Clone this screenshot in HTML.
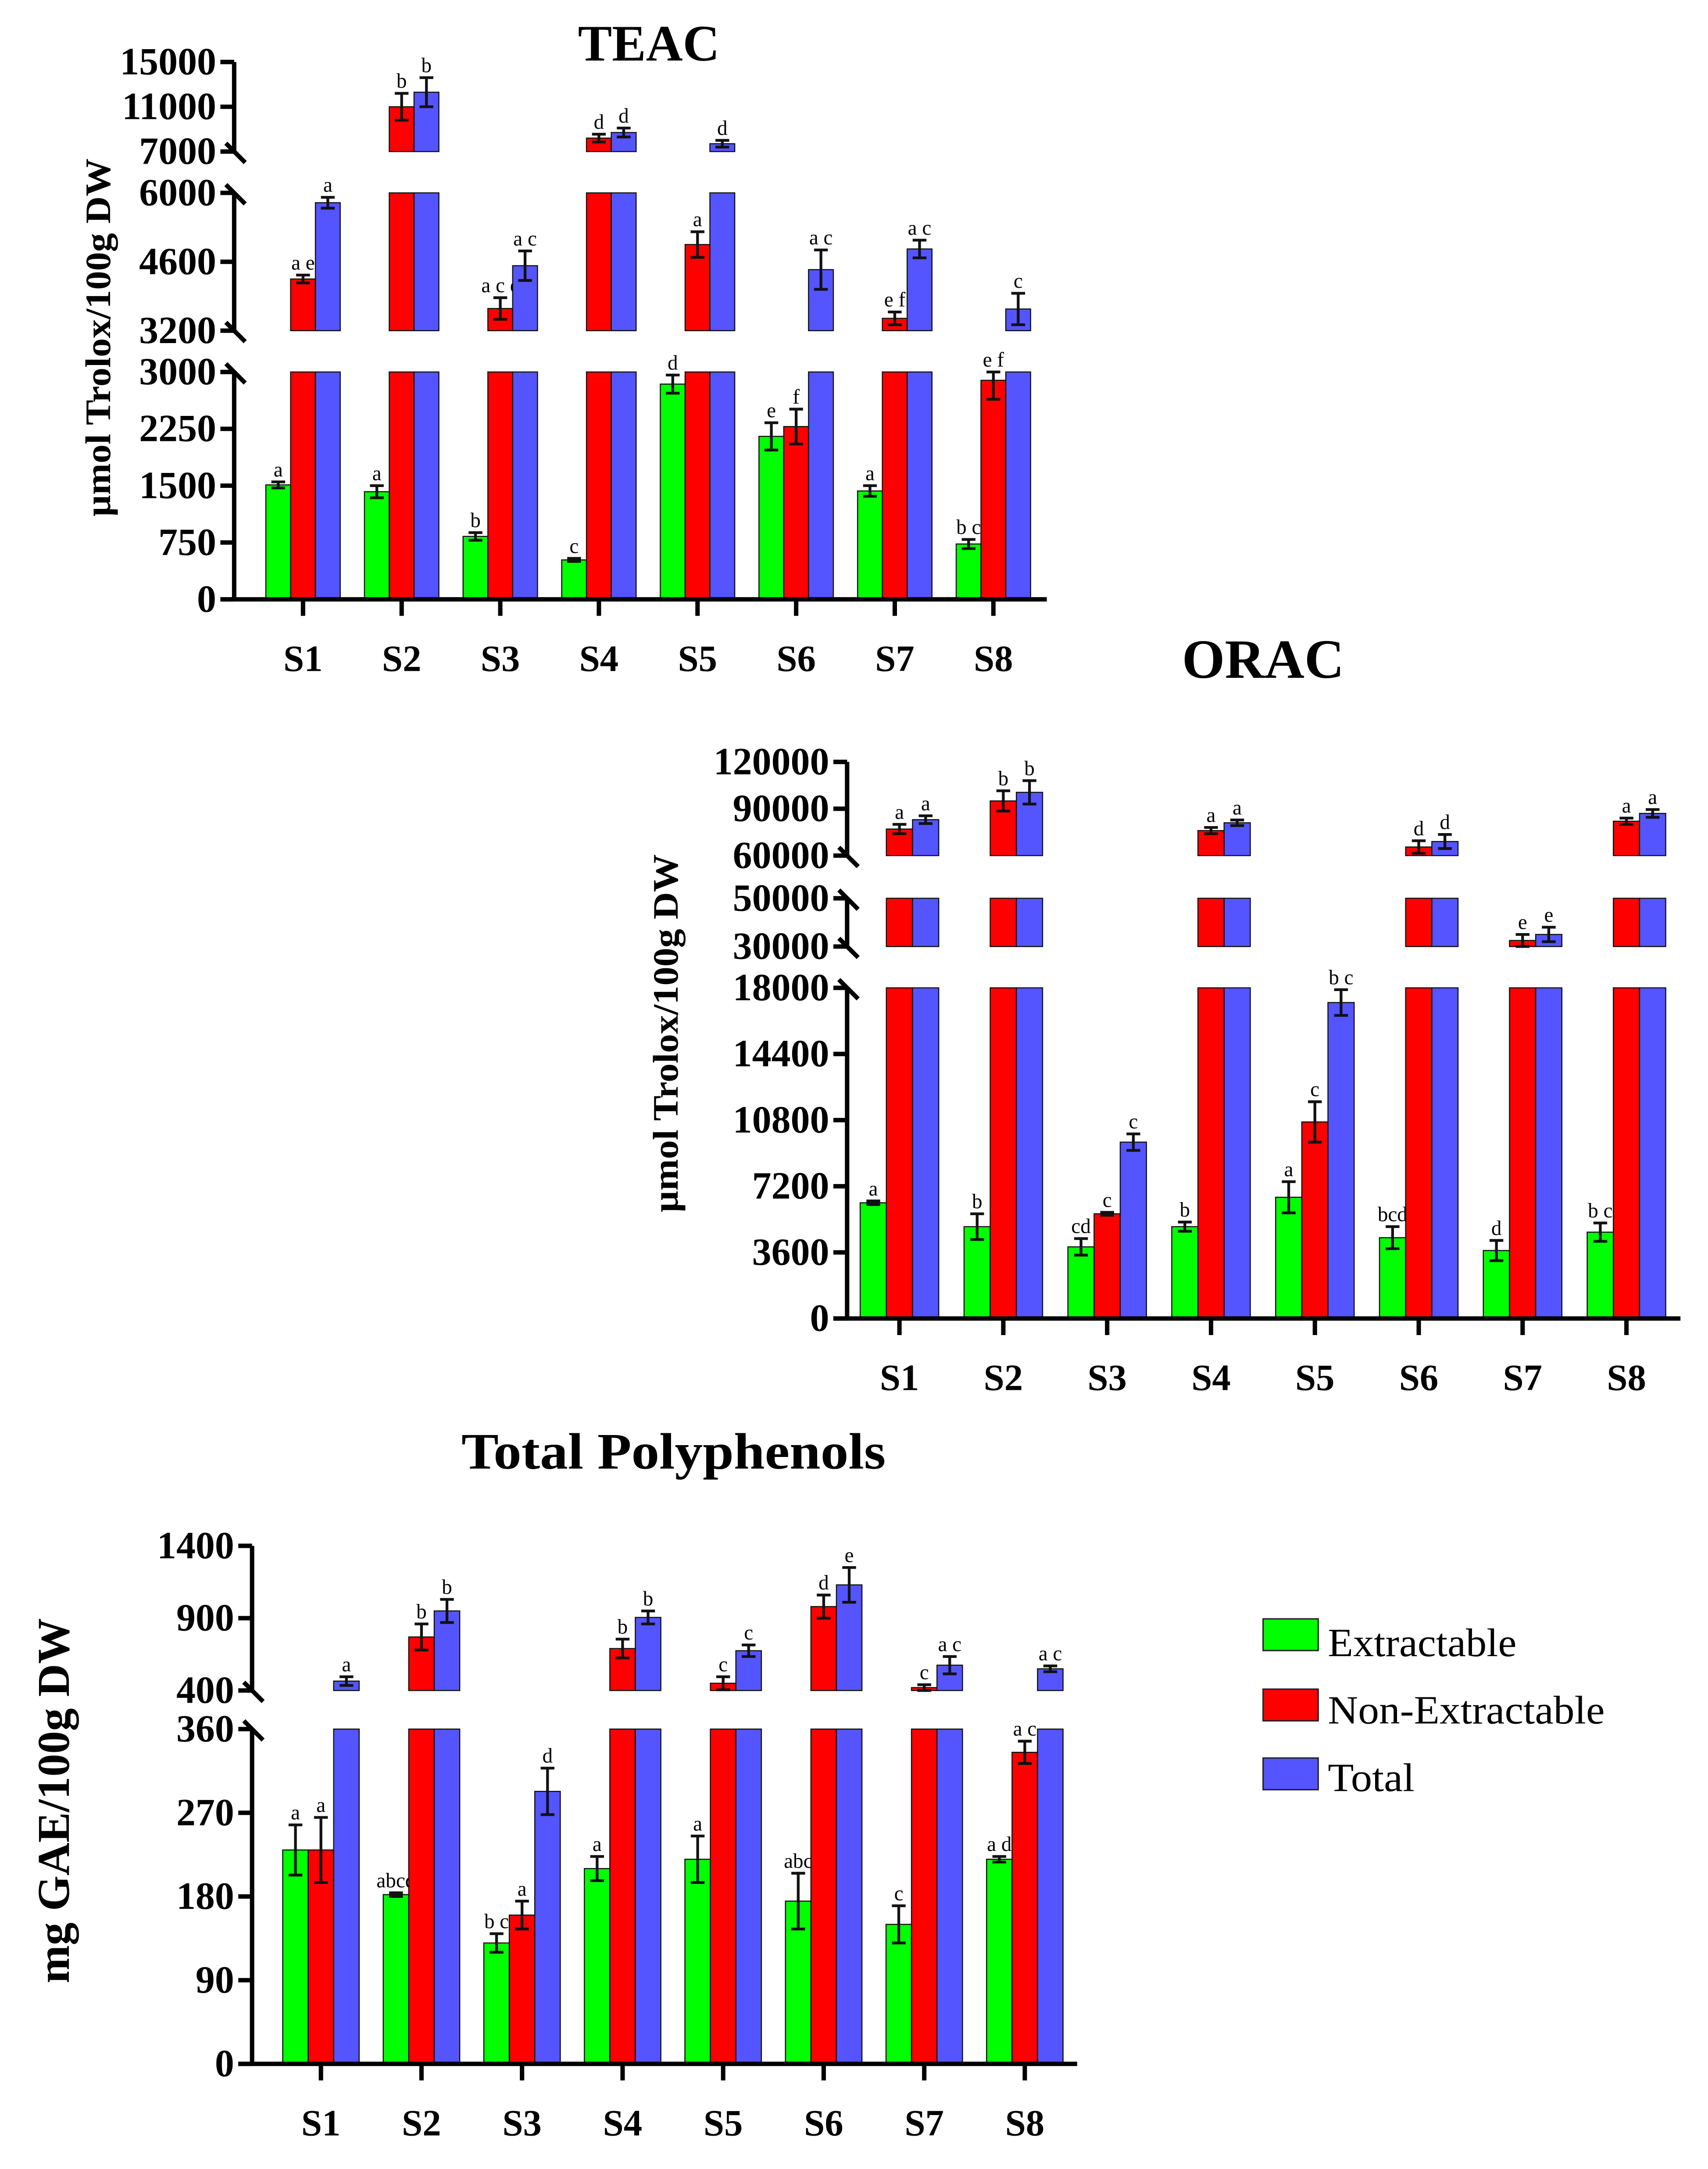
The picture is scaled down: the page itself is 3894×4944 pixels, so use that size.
<!DOCTYPE html>
<html><head><meta charset="utf-8">
<style>
html,body{margin:0;padding:0;background:#fff;}
svg{display:block;}
text{font-family:"Liberation Serif",serif;}
</style></head>
<body>
<svg id="fig" width="3894" height="4944" viewBox="0 0 1240 1574.3" preserveAspectRatio="none" xmlns="http://www.w3.org/2000/svg">
<rect width="1240" height="1574.3" fill="#fff"/>
<text x="471" y="44" font-size="37" font-weight="bold" text-anchor="middle">TEAC</text>
<text x="917" y="492" font-size="40" font-weight="bold" text-anchor="middle">ORAC</text>
<text x="489" y="1066" font-size="37" font-weight="bold" text-anchor="middle" textLength="308" lengthAdjust="spacingAndGlyphs">Total Polyphenols</text>
<text transform="translate(80,245) rotate(-90)" font-size="26" font-weight="bold" text-anchor="middle" textLength="260" lengthAdjust="spacingAndGlyphs">µmol Trolox/100g DW</text>
<text transform="translate(492,750) rotate(-90)" font-size="26" font-weight="bold" text-anchor="middle" textLength="260" lengthAdjust="spacingAndGlyphs">µmol Trolox/100g DW</text>
<text transform="translate(50,1307) rotate(-90)" font-size="33" font-weight="bold" text-anchor="middle" textLength="265" lengthAdjust="spacingAndGlyphs">mg GAE/100g DW</text>
<g>
<rect x="917" y="1175" width="40" height="23" fill="#00ff00" stroke="#222" stroke-width="1"/>
<text x="964" y="1202" font-size="29" textLength="137" lengthAdjust="spacingAndGlyphs">Extractable</text>
<rect x="917" y="1226" width="40" height="23" fill="#ff0000" stroke="#222" stroke-width="1"/>
<text x="964" y="1251" font-size="29" textLength="201" lengthAdjust="spacingAndGlyphs">Non-Extractable</text>
<rect x="917" y="1276" width="40" height="23" fill="#5555ff" stroke="#222" stroke-width="1"/>
<text x="964" y="1300" font-size="29" textLength="63" lengthAdjust="spacingAndGlyphs">Total</text>
</g>
</svg>
<script>
const categories = ["S1","S2","S3","S4","S5","S6","S7","S8"];
const teacExtractable = [1510,1420,830,520,2840,2150,1430,730];
const teacNonExtractable = [4250,11000,3650,8200,4950,2280,3450,2890];
const teacTotal = [5800,12300,4520,8700,7700,4440,4860,3640];
const teacExtErr = [40,80,50,20,120,180,70,60];
const teacNonErr = [80,1200,220,350,260,230,130,250];
const teacTotErr = [110,1300,300,400,300,400,180,320];
const teacExtLetters = ["a","a","b","c","d","e","a","b c"];
const teacNonLetters = ["a e","b","a c e","d","a","f","e f","e f"];
const teacTotLetters = ["a","b","a c","d","d","a c","a c","c"];
const teacTicks = [0,750,1500,2250,3000,3200,4600,6000,7000,11000,15000];

const oracExtractable = [6300,5000,3900,5000,6600,4400,3700,4700];
const oracNonExtractable = [77000,95000,5700,76000,10700,65500,32500,82000];
const oracTotal = [83000,100500,9600,81000,17200,69000,35000,87000];
const oracExtErr = [100,700,450,250,850,600,550,500];
const oracNonErr = [3000,6500,80,2000,1100,4000,2500,2000];
const oracTotErr = [2500,7500,450,1800,700,4500,3000,2500];
const oracExtLetters = ["a","b","cd","b","a","bcd","d","b c"];
const oracNonLetters = ["a","b","c","a","c","d","e","a"];
const oracTotLetters = ["a","b","c","a","b c","d","e","a"];
const oracTicks = [0,3600,7200,10800,14400,18000,30000,50000,60000,90000,120000];

const polyExtractable = [230,182,130,210,220,175,150,220];
const polyNonExtractable = [230,770,160,690,450,980,420,335];
const polyTotal = [465,950,293,905,675,1130,575,550];
const polyExtErr = [27,2,10,13,25,30,20,3];
const polyNonErr = [35,90,15,65,45,80,20,12];
const polyTotErr = [30,80,25,45,40,120,60,20];
const polyExtLetters = ["a","abcd","b c","a","a","abc","c","a d"];
const polyNonLetters = ["a","b","a","b","c","d","c","a c"];
const polyTotLetters = ["a","b","d","b","c","e","a c","a c"];
const polyTicks = [0,90,180,270,360,400,900,1400];

const NS = "http://www.w3.org/2000/svg";
const svg = document.getElementById("fig");
function mk(tag, attrs, parent){const e=document.createElementNS(NS,tag);for(const k in attrs)e.setAttribute(k,attrs[k]);(parent||svg).appendChild(e);return e;}

function drawChart(cfg){
  const g = mk("g",{});
  
  
  const segs = cfg.segments;
  function segY(s,v){return s.y0 + (v - s.v0)/(s.v1 - s.v0)*(s.y1 - s.y0);}
  function yOf(v){for(const s of segs){if(v>=s.v0-1e-9 && v<=s.v1+1e-9)return segY(s,v);}
    for(let i=segs.length-1;i>=0;i--){if(v>segs[i].v1)return segs[i].y1;}return segs[0].y0;}
  function xOf(i){return cfg.x0 + i*cfg.step;}
  const series=[[cfg.ext,cfg.extErr,cfg.extL,"#00ff00","extractable"],[cfg.non,cfg.nonErr,cfg.nonL,"#ff0000","non-extractable"],[cfg.tot,cfg.totErr,cfg.totL,"#5555ff","total"]];
  series.forEach((s,si)=>{
    s[0].forEach((v,i)=>{
      const bx = xOf(i) + (si-1.5)*cfg.bw;
      segs.forEach((sg,k)=>{
        if(v<=sg.v0)return;
        const top = Math.min(v,sg.v1);
        const yb = sg.y0, yt = segY(sg,top);
        const r = mk("rect",{x:bx,y:yt,width:cfg.bw,height:yb-yt,fill:s[3],stroke:"#111","stroke-width":0.8},g);
        
        
      });
      const yh=yOf(v+s[1][i]), yl=yOf(v-s[1][i]);
      const cx=bx+cfg.bw/2;
      const eb=mk("path",{d:`M${cx},${yh}V${yl}M${cx-5},${yh}H${cx+5}M${cx-5},${yl}H${cx+5}`,stroke:"#111","stroke-width":2,fill:"none"},g);
      
      
      const t=mk("text",{x:cx,y:yh-4,"font-size":cfg.lfs,"text-anchor":"middle"},g);
      t.textContent=s[2][i];
      
      
    });
  });
  segs.forEach((sg,k)=>{
    const ax=mk("line",{x1:cfg.ax,x2:cfg.ax,y1:sg.y0+(k==0?1.5:0),y2:sg.y1,stroke:"#000","stroke-width":3.2},g);
    
    
    if(k>0){const b=mk("line",{x1:cfg.ax-6,y1:sg.y0-6,x2:cfg.ax+8,y2:sg.y0+8,stroke:"#000","stroke-width":3.2},g);
      }
    if(k<segs.length-1){const b=mk("line",{x1:cfg.ax-6,y1:sg.y1-6,x2:cfg.ax+8,y2:sg.y1+8,stroke:"#000","stroke-width":3.2},g);
      }
  });
  cfg.ticks.forEach(tv=>{
    const y=yOf(tv);
    const tk=mk("line",{x1:cfg.ax-10,x2:cfg.ax,y1:y,y2:y,stroke:"#000","stroke-width":3.2},g);
    
    const tl=mk("text",{x:cfg.ax-13,y:y+9,"font-size":cfg.tfs,"font-weight":"bold","text-anchor":"end"},g);
    tl.textContent=tv;
    
    
  });
  const base=segs[0].y0;
  const xa=mk("line",{x1:cfg.ax-10,x2:cfg.xend,y1:base,y2:base,stroke:"#000","stroke-width":3.2},g);
  
  categories.forEach((c,i)=>{
    const x=xOf(i);
    const tk=mk("line",{x1:x,x2:x,y1:base,y2:base+12,stroke:"#000","stroke-width":3.2},g);
    
    const tl=mk("text",{x:x,y:base+cfg.xly,"font-size":cfg.xfs,"font-weight":"bold","text-anchor":"middle"},g);
    tl.textContent=c;
    
    
  });
}

drawChart({name:"teac-chart",x0:220,step:71.6,bw:18,ax:170,xend:760,tfs:28,xfs:27,xly:52,lfs:15,
  segments:[{v0:0,v1:3000,y0:435,y1:270},{v0:3200,v1:6000,y0:240,y1:140},{v0:7000,v1:15000,y0:110,y1:45}],
  ticks:teacTicks,ext:teacExtractable,non:teacNonExtractable,tot:teacTotal,extErr:teacExtErr,nonErr:teacNonErr,totErr:teacTotErr,
  extL:teacExtLetters,nonL:teacNonLetters,totL:teacTotLetters});
drawChart({name:"orac-chart",x0:653,step:75.4,bw:19,ax:615,xend:1220,tfs:28,xfs:27,xly:52,lfs:15,
  segments:[{v0:0,v1:18000,y0:957,y1:717},{v0:30000,v1:50000,y0:687,y1:652},{v0:60000,v1:120000,y0:621,y1:553}],
  ticks:oracTicks,ext:oracExtractable,non:oracNonExtractable,tot:oracTotal,extErr:oracExtErr,nonErr:oracNonErr,totErr:oracTotErr,
  extL:oracExtLetters,nonL:oracNonLetters,totL:oracTotLetters});
drawChart({name:"polyphenols-chart",x0:233,step:73,bw:18.5,ax:183,xend:782,tfs:28,xfs:27,xly:52,lfs:15,
  segments:[{v0:0,v1:360,y0:1498,y1:1255},{v0:400,v1:1400,y0:1227,y1:1122}],
  ticks:polyTicks,ext:polyExtractable,non:polyNonExtractable,tot:polyTotal,extErr:polyExtErr,nonErr:polyNonErr,totErr:polyTotErr,
  extL:polyExtLetters,nonL:polyNonLetters,totL:polyTotLetters});
</script>
</body></html>
